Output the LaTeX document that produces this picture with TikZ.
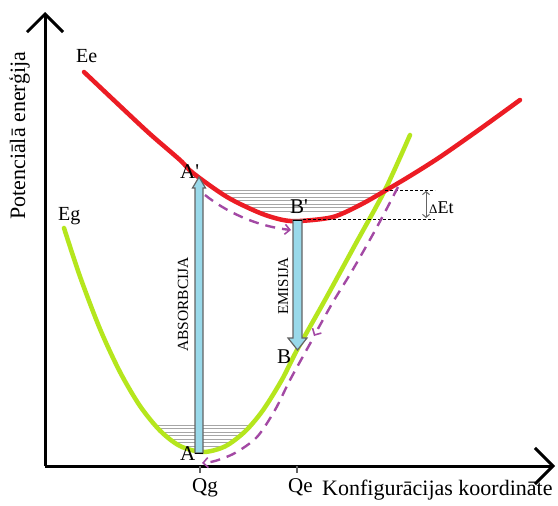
\documentclass[tikz,border=0pt]{standalone}
\usepackage{fontspec}
\setmainfont{Liberation Serif}
\usetikzlibrary{arrows.meta}
\definecolor{redc}{RGB}{236,28,36}
\definecolor{greenc}{RGB}{181,230,29}
\definecolor{purp}{RGB}{163,73,164}
\definecolor{lblue}{RGB}{153,217,234}
\definecolor{outl}{RGB}{100,100,100}
\tikzset{
  axis/.style={line width=3pt,-{Straight Barb[length=18pt,width=36pt,line width=3pt]}},
  lbl/.style={inner sep=0pt,anchor=base west,font=\fontsize{21}{21}\selectfont},
  vlbl/.style={inner sep=0pt,anchor=base west,rotate=90},
  level/.style={draw=gray!70,line width=0.8pt},
  pdash/.style={draw=purp,line width=2.4pt,dash pattern=on 10pt off 7pt,-{Straight Barb[length=5pt,width=10pt,line width=1.6pt]}},
  blarrow/.style={fill=lblue,draw=outl,line width=1.2pt,line join=miter},
  dline/.style={draw=black,line width=0.8pt,dash pattern=on 3pt off 2pt}
}
\def\greenpts{(64,228) (80,276.5) (100,329) (120,372) (140,406) (160,430.6) (180,446) (203,452) (225,446.4) (245,431.5) (263,410.2) (282,379.6) (297,350) (325,300) (355,245) (385,190) (410,135)}
\def\redpts{(84,72) (120,106) (150,134) (180,160) (193,173) (227,197) (260,213) (283,220) (300,221) (333,217) (360,205) (383,192) (410,176) (440,157) (480,129) (520,100)}
\begin{document}
\begin{tikzpicture}[x=1pt,y=-1pt]
\useasboundingbox (0,0) rectangle (558,506);
\fill[white] (0,0) rectangle (558,506);
% axes
\coordinate (O) at (45,466);
\coordinate (Ytop) at (45,12);
\coordinate (Xend) at (555,466);
\draw[axis] (O) -- (Ytop);
\draw[axis] (O) -- (Xend);
% ticks
\coordinate (tg) at (200,466);
\coordinate (te) at (297,466);
\draw[line width=1.2pt,outl] (tg) -- ++(0,7);
\draw[line width=1.2pt,outl] (te) -- ++(0,7);
% vibrational levels in green well
\begin{scope}
\clip plot[smooth] coordinates {\greenpts} -- cycle;
\foreach \yy in {425,428.5,432,435.5,439,442.5,446} \draw[level] (100,\yy) -- (300,\yy);
\end{scope}
% vibrational levels in red well
\begin{scope}
\clip plot[smooth] coordinates {\redpts} -- cycle;
\foreach \yy in {190,193.5,197,200.5,204,207.5,211} \draw[level] (150,\yy) -- (386,\yy);
\end{scope}
% curves
\draw[greenc,line width=4.5pt,line cap=round] plot[smooth] coordinates {\greenpts};
\draw[redc,line width=4.5pt,line cap=round] plot[smooth] coordinates {\redpts};
% Delta E_t
\coordinate (d1) at (385,190);
\coordinate (d2) at (303,219);
\coordinate (d1e) at (435,190);
\coordinate (d2e) at (435,219);
\draw[dline] (d1) -- (d1e);
\draw[dline] (d2) -- (d2e);
\coordinate (da) at (426,191);
\coordinate (db) at (426,218);
\draw[outl,line width=1pt,{Straight Barb[length=3pt,width=7pt]}-{Straight Barb[length=3pt,width=7pt]}] (da) -- (db);
\node[inner sep=0pt,anchor=base west] (dE) at (429,213) {{\fontsize{13}{13}\selectfont Δ}{\fontsize{18}{18}\selectfont Et}};
% absorption arrow
\draw[blarrow] (195,453) -- (195,188) -- (192.5,188) -- (199,177) -- (205.5,188) -- (203,188) -- (203,453) -- cycle;
\draw[black,line width=1pt] (195,453) -- (203,453);
% emission arrow
\draw[blarrow] (293,220) -- (293,338) -- (288,338) -- (297.5,350) -- (307,338) -- (302,338) -- (302,220) -- cycle;
\draw[black,line width=1pt] (293,220) -- (302,220);
% purple dashed relaxation paths
\draw[pdash] (205,195) .. controls (225,211) and (255,226) .. (291,230);
\draw[pdash] plot[smooth] coordinates {(398,187) (385,212) (372,236) (352,271) (333,302) (314,336)};
\draw[pdash] plot[smooth] coordinates {(311,342) (290,380) (275,410) (257,437) (235,453) (215,461) (202,463)};
% labels
\node[lbl,font=\fontsize{20}{20}\selectfont] (Ee) at (76,63) {Ee};
\node[lbl,font=\fontsize{20}{20}\selectfont] (Eg) at (58,220) {Eg};
\node[lbl] (Ap) at (180,178) {A\textquotesingle};
\node[lbl] (Bp) at (290,213) {B\textquotesingle};
\node[lbl] (A) at (180,460) {A};
\node[lbl] (B) at (277,363) {B};
\node[lbl] (Qg) at (192,492) {Qg};
\node[lbl] (Qe) at (288,492) {Qe};
\node[lbl,font=\fontsize{22}{22}\selectfont] (xl) at (322,495) {Konfigurācijas koordināte};
\node[vlbl,font=\fontsize{22}{22}\selectfont] (yl) at (25,220) {Potenciālā enerģija};
\node[vlbl,font=\fontsize{15.5}{15.5}\selectfont] (abs) at (188,352) {ABSORBCIJA};
\node[vlbl,font=\fontsize{15}{15}\selectfont] (emi) at (288,315) {EMISIJA};
\end{tikzpicture}
\end{document}
